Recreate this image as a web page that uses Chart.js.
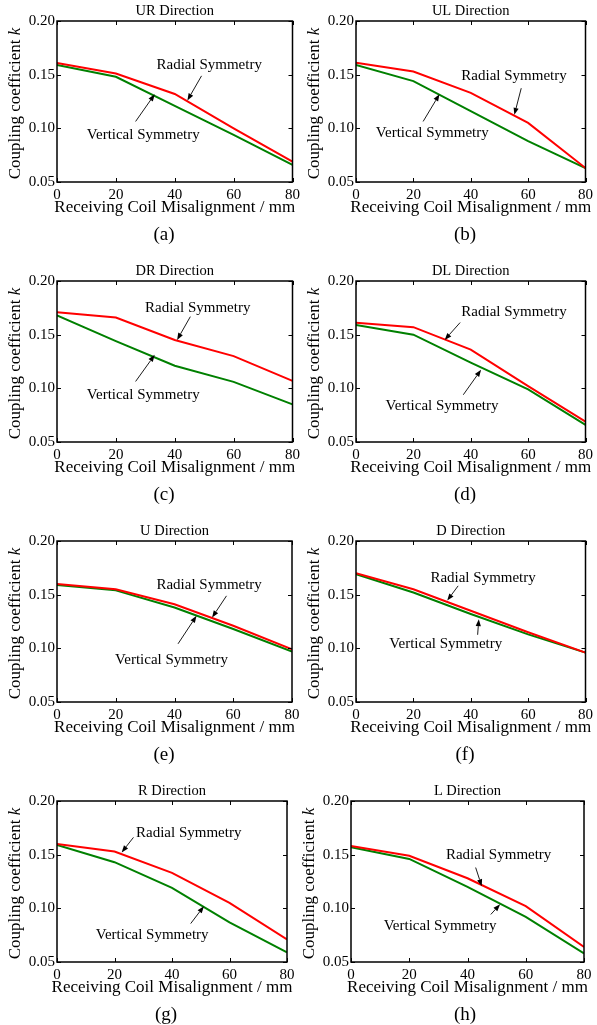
<!DOCTYPE html>
<html><head><meta charset="utf-8">
<script src="https://cdn.jsdelivr.net/npm/chart.js@4.4.1/dist/chart.umd.min.js"></script>
<style>
html,body{margin:0;padding:0;background:#fff;}
body{width:597px;height:1025px;position:relative;overflow:hidden;}
canvas{position:absolute;}
</style></head><body>
<script>
// ---------- data ----------
const misalignmentMM = [0, 20, 40, 60, 80];
const xTickValues = [0, 20, 40, 60, 80];
const yTickValues = [0.05, 0.10, 0.15, 0.20];
const panelTitles = ['UR Direction','UL Direction','DR Direction','DL Direction','U Direction','D Direction','R Direction','L Direction'];
const panelLabels = ['(a)','(b)','(c)','(d)','(e)','(f)','(g)','(h)'];
const seriesNames = ['Radial Symmetry','Vertical Symmetry'];
const xAxisTitle = 'Receiving Coil Misalignment / mm';
const yAxisTitle = 'Coupling coefficient ';
const yAxisSymbol = 'k';

const radialUR   = [0.161, 0.151, 0.132, 0.100, 0.069];
const verticalUR = [0.159, 0.148, 0.121, 0.094, 0.066];
const radialUL   = [0.161, 0.153, 0.133, 0.105, 0.063];
const verticalUL = [0.159, 0.144, 0.116, 0.088, 0.063];
const radialDR   = [0.171, 0.166, 0.145, 0.130, 0.107];
const verticalDR = [0.168, 0.144, 0.121, 0.106, 0.085];
const radialDL   = [0.161, 0.157, 0.136, 0.102, 0.069];
const verticalDL = [0.159, 0.150, 0.124, 0.099, 0.066];
const radialU    = [0.160, 0.155, 0.141, 0.121, 0.099];
const verticalU  = [0.159, 0.154, 0.138, 0.118, 0.097];
const radialD    = [0.170, 0.155, 0.135, 0.115, 0.096];
const verticalD  = [0.169, 0.152, 0.132, 0.113, 0.096];
const radialR    = [0.160, 0.153, 0.133, 0.105, 0.071];
const verticalR  = [0.159, 0.143, 0.119, 0.087, 0.059];
const radialL    = [0.158, 0.149, 0.128, 0.102, 0.064];
const verticalL  = [0.157, 0.146, 0.120, 0.092, 0.058];

const radialSeries = [radialUR, radialUL, radialDR, radialDL, radialU, radialD, radialR, radialL];
const verticalSeries = [verticalUR, verticalUL, verticalDR, verticalDL, verticalU, verticalD, verticalR, verticalL];

// annotation anchors in data units: [textX, textY, arrowFromX, arrowFromY, arrowToX, arrowToY]
const radialNotes = [
  [51.7,0.1585, 49.1,0.1489, 44.3,0.1260],
  [55.1,0.1489, 57.6,0.1374, 55.2,0.1126],
  [47.8,0.1752, 45.3,0.1668, 40.8,0.1451],
  [55.1,0.1715, 36.3,0.1613, 30.9,0.1451],
  [51.8,0.1585, 57.7,0.1489, 52.8,0.1287],
  [44.3,0.1653, 35.6,0.1582, 31.8,0.1445],
  [45.8,0.1698, 26.6,0.1661, 22.5,0.1521],
  [50.7,0.1496, 42.8,0.1380, 44.9,0.1206]
];
const verticalNotes = [
  [29.3,0.0940, 26.7,0.1064, 33.2,0.1318],
  [26.6,0.0956, 23.4,0.1064, 29.1,0.1318],
  [29.3,0.0940, 26.7,0.1064, 33.2,0.1312],
  [30.0,0.0832, 37.4,0.0940, 43.6,0.1173],
  [39.0,0.0894, 41.2,0.1042, 47.5,0.1303],
  [31.3,0.1039, 42.4,0.1126, 42.8,0.1272],
  [33.1,0.0749, 46.5,0.0858, 51.1,0.1020],
  [30.6,0.0833, 48.0,0.0943, 51.2,0.1038]
];

// ---------- layout (canvas placement and plot box, canvas-relative) ----------
const layouts = [
  {cx:0,   cy:0,   w:304, h:260, L:57, R:293, T:21, B:182, lab:164},
  {cx:297, cy:0,   w:300, h:260, L:59, R:293, T:21, B:182, lab:168},
  {cx:0,   cy:260, w:304, h:260, L:57, R:293, T:21, B:182, lab:164},
  {cx:297, cy:260, w:300, h:260, L:59, R:293, T:21, B:182, lab:168},
  {cx:0,   cy:520, w:304, h:260, L:57, R:292, T:21, B:182, lab:164},
  {cx:297, cy:520, w:300, h:260, L:59, R:293, T:21, B:182, lab:168},
  {cx:0,   cy:780, w:304, h:245, L:57, R:287, T:21, B:182, lab:166},
  {cx:297, cy:780, w:300, h:245, L:54, R:287, T:21, B:182, lab:168}
];

const SERIF = '"Liberation Serif", "Times New Roman", serif';

function arrow(ctx, x1, y1, x2, y2) {
  const a = Math.atan2(y2 - y1, x2 - x1);
  const len = 7, hw = 2.6;
  const bx = x2 - len * Math.cos(a), by = y2 - len * Math.sin(a);
  ctx.beginPath(); ctx.moveTo(x1, y1); ctx.lineTo(bx, by); ctx.stroke();
  ctx.beginPath();
  ctx.moveTo(x2, y2);
  ctx.lineTo(bx + hw * Math.sin(a), by - hw * Math.cos(a));
  ctx.lineTo(bx - hw * Math.sin(a), by + hw * Math.cos(a));
  ctx.closePath(); ctx.fill();
}

const decor = {
  id: 'decor',
  afterDraw(chart, args, o) {
    const {ctx, chartArea: {left, right, top, bottom}, scales: {x, y}} = chart;
    ctx.save();
    ctx.strokeStyle = '#000'; ctx.fillStyle = '#000';
    // frame
    ctx.lineWidth = 1.5;
    ctx.strokeRect(left, top, right - left, bottom - top);
    // inward ticks
    ctx.lineWidth = 1;
    ctx.beginPath();
    y.ticks.forEach(t => {
      const py = Math.round(y.getPixelForValue(t.value)) + 0.5;
      ctx.moveTo(left, py); ctx.lineTo(left + 4, py);
      ctx.moveTo(right, py); ctx.lineTo(right - 4, py);
    });
    x.ticks.forEach(t => {
      const px = Math.round(x.getPixelForValue(t.value)) + 0.5;
      ctx.moveTo(px, bottom); ctx.lineTo(px, bottom - 4);
      ctx.moveTo(px, top); ctx.lineTo(px, top + 4);
    });
    ctx.stroke();
    const cxm = (left + right) / 2;
    ctx.textAlign = 'center'; ctx.textBaseline = 'middle';
    // panel title
    ctx.font = '14.5px ' + SERIF;
    ctx.fillText(o.title, cxm, top - 10);
    // x axis title
    ctx.font = '17px ' + SERIF;
    ctx.fillText(xAxisTitle, cxm, bottom + 26);
    // panel label
    ctx.font = '19px ' + SERIF;
    ctx.fillText(o.label, o.labX, bottom + 53);
    // y axis title (rotated, italic k)
    ctx.save();
    ctx.translate(left - 41, (top + bottom) / 2 + 2);
    ctx.rotate(-Math.PI / 2);
    ctx.font = '17px ' + SERIF;
    const w1 = ctx.measureText(yAxisTitle).width;
    ctx.font = 'italic 17px ' + SERIF;
    const w2 = ctx.measureText(yAxisSymbol).width;
    const start = -(w1 + w2) / 2;
    ctx.textAlign = 'left';
    ctx.font = '17px ' + SERIF;
    ctx.fillText(yAxisTitle, start, 0);
    ctx.font = 'italic 17px ' + SERIF;
    ctx.fillText(yAxisSymbol, start + w1, 0);
    ctx.restore();
    // annotations
    ctx.font = '15px ' + SERIF;
    ctx.lineWidth = 0.9;
    [[o.rNote, seriesNames[0]], [o.vNote, seriesNames[1]]].forEach(([n, txt]) => {
      ctx.textAlign = 'center';
      ctx.fillText(txt, x.getPixelForValue(n[0]), y.getPixelForValue(n[1]));
      arrow(ctx, x.getPixelForValue(n[2]), y.getPixelForValue(n[3]),
                 x.getPixelForValue(n[4]), y.getPixelForValue(n[5]));
    });
    ctx.restore();
  }
};

layouts.forEach((lay, i) => {
  const cv = document.createElement('canvas');
  cv.width = lay.w; cv.height = lay.h;
  cv.style.left = lay.cx + 'px'; cv.style.top = lay.cy + 'px';
  cv.style.width = lay.w + 'px'; cv.style.height = lay.h + 'px';
  document.body.appendChild(cv);
  const yW = lay.L, xH = lay.h - lay.B;
  new Chart(cv, {
    type: 'line',
    data: {
      datasets: [
        {label: seriesNames[0], data: misalignmentMM.map((m, j) => ({x: m, y: radialSeries[i][j]})),
         borderColor: '#ff0000', borderWidth: 2, pointRadius: 0, tension: 0, fill: false},
        {label: seriesNames[1], data: misalignmentMM.map((m, j) => ({x: m, y: verticalSeries[i][j]})),
         borderColor: '#008000', borderWidth: 2, pointRadius: 0, tension: 0, fill: false}
      ]
    },
    options: {
      responsive: false, animation: false, devicePixelRatio: 1,
      layout: {padding: {left: 0, right: lay.w - lay.R, top: lay.T, bottom: 0}},
      plugins: {legend: {display: false}, tooltip: {enabled: false},
        decor: {title: panelTitles[i], label: panelLabels[i], labX: lay.lab, rNote: radialNotes[i], vNote: verticalNotes[i]}},
      scales: {
        x: {type: 'linear', min: 0, max: 80,
            afterBuildTicks: s => { s.ticks = xTickValues.map(v => ({value: v})); },
            afterFit: s => { s.height = xH; },
            grid: {display: false, drawTicks: false}, border: {display: false},
            ticks: {font: {family: SERIF, size: 15}, color: '#000', padding: 4, maxRotation: 0, autoSkip: false,
                    callback: v => String(v)}},
        y: {type: 'linear', min: 0.05, max: 0.20,
            afterBuildTicks: s => { s.ticks = yTickValues.map(v => ({value: v})); },
            afterFit: s => { s.width = yW; },
            grid: {display: false, drawTicks: false}, border: {display: false},
            ticks: {font: {family: SERIF, size: 15}, color: '#000', padding: 2, autoSkip: false,
                    callback: v => Number(v).toFixed(2)}}
      }
    },
    plugins: [decor]
  });
});
</script>
</body></html>
